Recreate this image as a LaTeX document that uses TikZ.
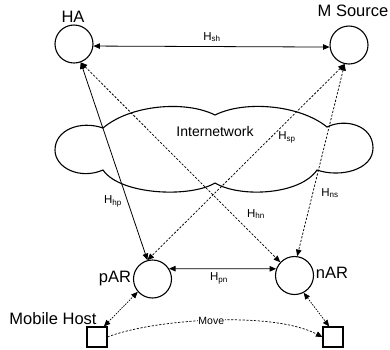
\documentclass[tikz,border=0pt]{standalone}
\usepackage{fontspec}
\setmainfont{Liberation Sans}
\usetikzlibrary{arrows.meta}
\newcommand\Hsub[1]{H\textsubscript{#1}}
\begin{document}
\begin{tikzpicture}[x=1pt,y=-1pt,
  router/.style={circle,draw,line width=1.1pt,minimum size=38pt,inner sep=0pt},
  host/.style={rectangle,draw,line width=1.1pt,minimum size=20pt,inner sep=0pt},
  lbl/.style={font=\fontsize{16.5}{18}\selectfont,inner sep=0pt},
  hl/.style={font=\fontsize{11.5}{12}\selectfont,inner sep=0pt},
  tips/.style={{Triangle[length=6.5pt,width=5.5pt]}-{Triangle[length=6.5pt,width=5.5pt]}},
  link/.style={tips,line width=0.8pt},
  dlink/.style={tips,line width=0.75pt,dash pattern=on 2.2pt off 1.6pt},
  mlink/.style={tips,line width=0.7pt,dash pattern=on 1.5pt off 1.2pt},
  movelink/.style={-{Triangle[length=6.5pt,width=5.5pt]},line width=0.7pt,dash pattern=on 2.2pt off 1.6pt},
  cloud/.style={line width=1.1pt},
]
\useasboundingbox (0,0) rectangle (390,349);
% cloud
\draw[cloud] (103,128) .. controls (130,105) and (185,100) .. (215,115)
  .. controls (245,100) and (300,105) .. (327,127)
  .. controls (345,118) and (373,125) .. (373,148)
  .. controls (373,170) and (340,178) .. (317,170)
  .. controls (300,195) and (240,198) .. (215,183)
  .. controls (190,198) and (120,195) .. (103,170)
  .. controls (80,180) and (55,168) .. (55,150)
  .. controls (55,130) and (80,120) .. cycle;
\node[font=\fontsize{14}{16}\selectfont,inner sep=0pt] (inet) at (215,131) {Internetwork};
% nodes
\node[router] (HA) at (74,44) {};
\node[router] (MS) at (349,45) {};
\node[router] (pAR) at (152.5,279) {};
\node[router] (nAR) at (294.5,275.5) {};
\node[host] (LH) at (97,337) {};
\node[host] (RH) at (333,337) {};
\node[lbl] (tHA) at (73,16.5) {HA};
\node[lbl] (tMS) at (353,11) {M Source};
\node[lbl] (tpAR) at (115,278.5) {pAR};
\node[lbl] (tnAR) at (332,273) {nAR};
\node[lbl] (tMH) at (53,319) {Mobile Host};
% links
\draw[link] (HA.-6) -- (MS.186);
\draw[link] (pAR.32) -- (nAR.160);
\draw[link] (HA.-70) -- (pAR.105);
\draw[dlink] (HA.-70) -- (nAR.137);
\draw[dlink] (MS.-103) -- (pAR.105);
\draw[dlink] (MS.-103) -- (nAR.82);
\draw[mlink] (LH.57) -- (pAR.-139);
\draw[mlink] (nAR.-62) -- (RH.110);
\draw[movelink] (LH.east) .. controls (150,320) and (270,310) .. (RH.west)
  node[pos=0.5,fill=white,inner sep=0.8pt,font=\fontsize{10.5}{12}\selectfont] (mv) {Move};
% H labels
\node[hl] (hsh) at (212,37) {\Hsub{sh}};
\node[hl] (hsp) at (287,137) {\Hsub{sp}};
\node[hl] (hhp) at (113,201) {\Hsub{hp}};
\node[hl] (hhn) at (256,214) {\Hsub{hn}};
\node[hl] (hns) at (330,193) {\Hsub{ns}};
\node[hl] (hpn) at (219,278) {\Hsub{pn}};
\end{tikzpicture}
\end{document}
